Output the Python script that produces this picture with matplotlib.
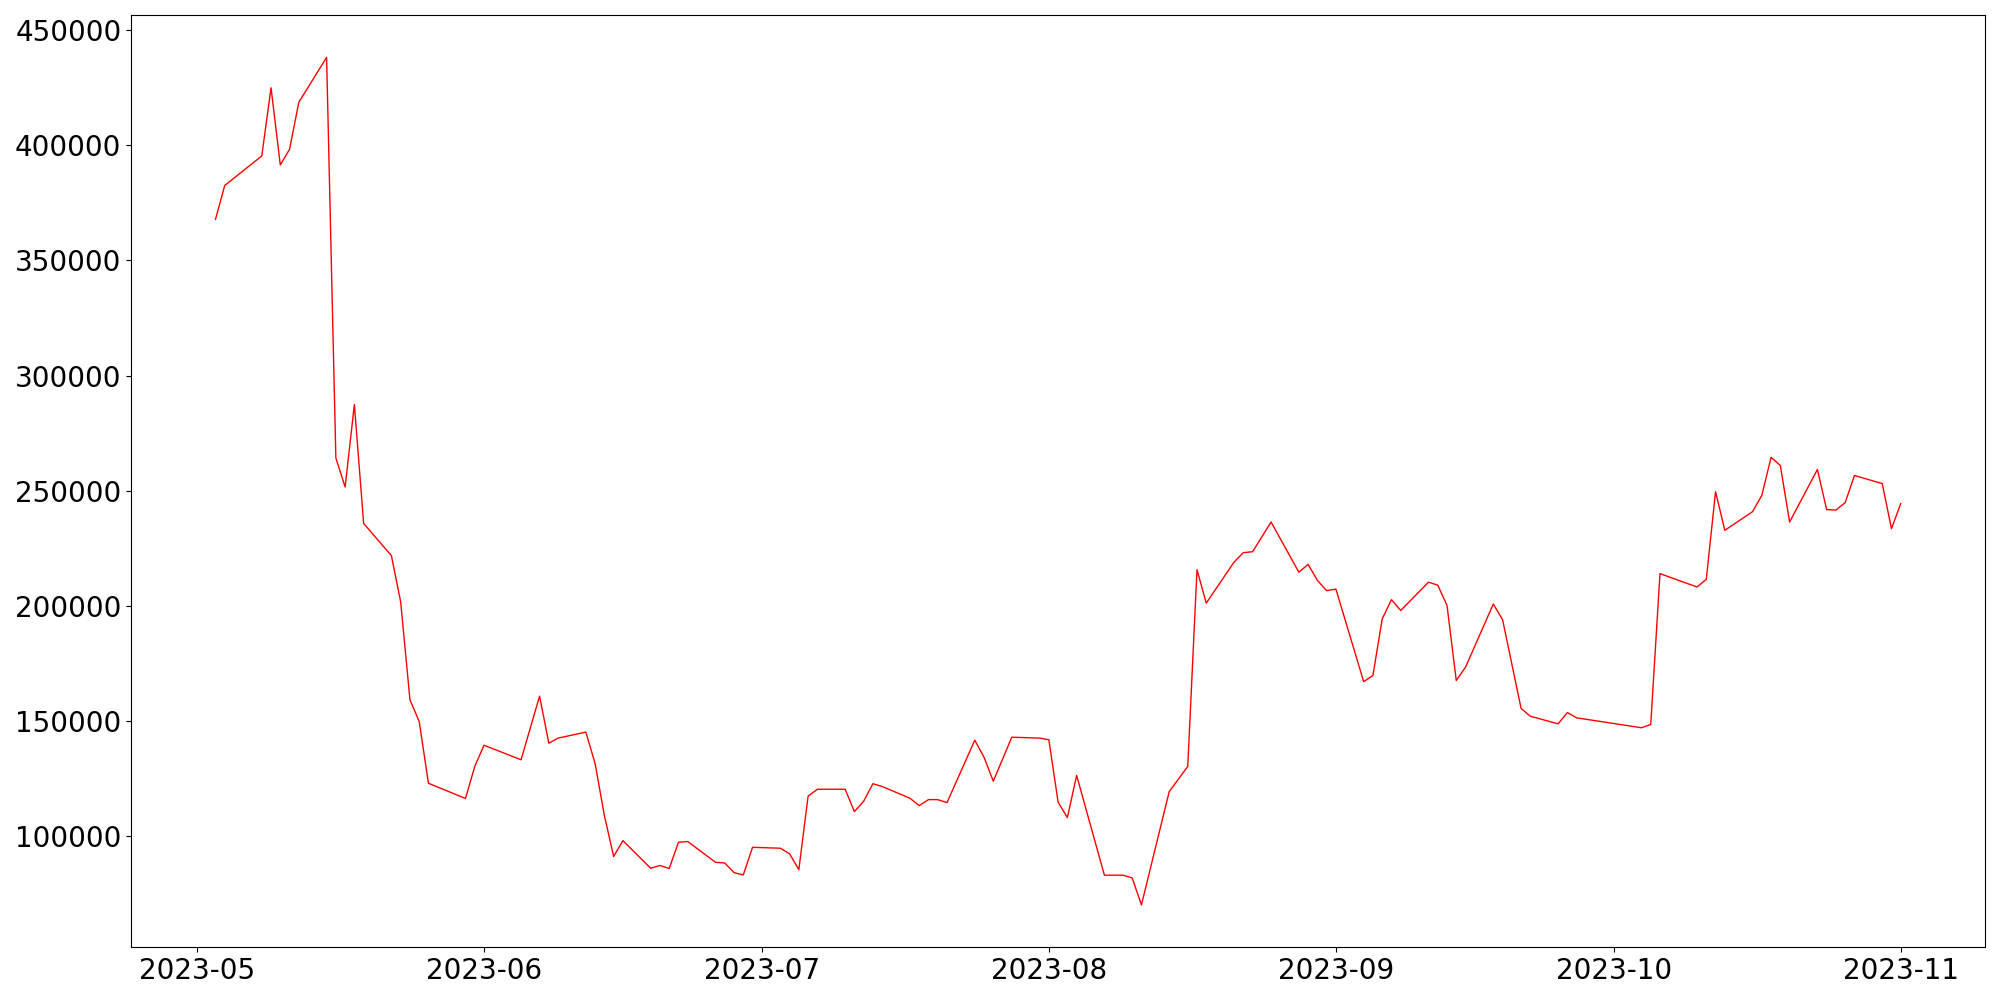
import matplotlib
matplotlib.use("Agg")
import matplotlib.pyplot as plt
import matplotlib.dates as mdates
import pandas as pd

dates = [
    "2023-05-03", "2023-05-04", "2023-05-08", "2023-05-09", "2023-05-10", "2023-05-11",
    "2023-05-12", "2023-05-15", "2023-05-16", "2023-05-17", "2023-05-18", "2023-05-19",
    "2023-05-22", "2023-05-23", "2023-05-24", "2023-05-25", "2023-05-26", "2023-05-30",
    "2023-05-31", "2023-06-01", "2023-06-05", "2023-06-07", "2023-06-08", "2023-06-09",
    "2023-06-12", "2023-06-13", "2023-06-14", "2023-06-15", "2023-06-16", "2023-06-19",
    "2023-06-20", "2023-06-21", "2023-06-22", "2023-06-23", "2023-06-26", "2023-06-27",
    "2023-06-28", "2023-06-29", "2023-06-30", "2023-07-03", "2023-07-04", "2023-07-05",
    "2023-07-06", "2023-07-07", "2023-07-10", "2023-07-11", "2023-07-12", "2023-07-13",
    "2023-07-14", "2023-07-17", "2023-07-18", "2023-07-19", "2023-07-20", "2023-07-21",
    "2023-07-24", "2023-07-25", "2023-07-26", "2023-07-28", "2023-07-31", "2023-08-01",
    "2023-08-02", "2023-08-03", "2023-08-04", "2023-08-07", "2023-08-08", "2023-08-09",
    "2023-08-10", "2023-08-11", "2023-08-14", "2023-08-16", "2023-08-17", "2023-08-18",
    "2023-08-21", "2023-08-22", "2023-08-23", "2023-08-25", "2023-08-28", "2023-08-29",
    "2023-08-30", "2023-08-31", "2023-09-01", "2023-09-04", "2023-09-05", "2023-09-06",
    "2023-09-07", "2023-09-08", "2023-09-11", "2023-09-12", "2023-09-13", "2023-09-14",
    "2023-09-15", "2023-09-18", "2023-09-19", "2023-09-21", "2023-09-22", "2023-09-25",
    "2023-09-26", "2023-09-27", "2023-10-04", "2023-10-05", "2023-10-06", "2023-10-10",
    "2023-10-11", "2023-10-12", "2023-10-13", "2023-10-16", "2023-10-17", "2023-10-18",
    "2023-10-19", "2023-10-20", "2023-10-23", "2023-10-24", "2023-10-25", "2023-10-26",
    "2023-10-27", "2023-10-30", "2023-10-31", "2023-11-01",
]

values = [
    367800, 382500, 395300, 424900, 391400, 398200,
    418600, 438100, 264200, 251600, 287400, 235800,
    221800, 201700, 159300, 149800, 123000, 116400,
    130300, 139500, 133200, 160800, 140400, 142600,
    145200, 131500, 109000, 91200, 98100, 86100,
    87300, 86000, 97400, 97700, 88700, 88400,
    84200, 83200, 95200, 94800, 92400, 85500,
    117400, 120400, 120400, 110700, 115200, 122800,
    121600, 116500, 113300, 115900, 115900, 114600,
    141700, 134300, 123900, 143000, 142600, 141900,
    114800, 108100, 126400, 83100, 83100, 83100,
    81900, 70200, 119400, 130300, 215700, 201200,
    219000, 223100, 223500, 236400, 214600, 218000,
    211100, 206600, 207300, 167100, 169800, 194300,
    202700, 198000, 210300, 209000, 200200, 167600,
    173400, 200800, 194000, 155500, 152100, 148800,
    153700, 151400, 147100, 148500, 214000, 208200,
    211500, 249600, 232800, 240900, 248000, 264500,
    260900, 236400, 259200, 241800, 241600, 244800,
    256600, 253100, 233500, 244400,
]

x = pd.to_datetime(dates)

fig, ax = plt.subplots(figsize=(20, 10), dpi=100)
ax.plot(x, values, color="red", linewidth=1.0)
ax.xaxis.set_major_locator(mdates.MonthLocator())
ax.xaxis.set_major_formatter(mdates.DateFormatter("%Y-%m"))
ax.tick_params(axis="both", labelsize=20)
fig.tight_layout()
fig.savefig("out.png", dpi=100)
